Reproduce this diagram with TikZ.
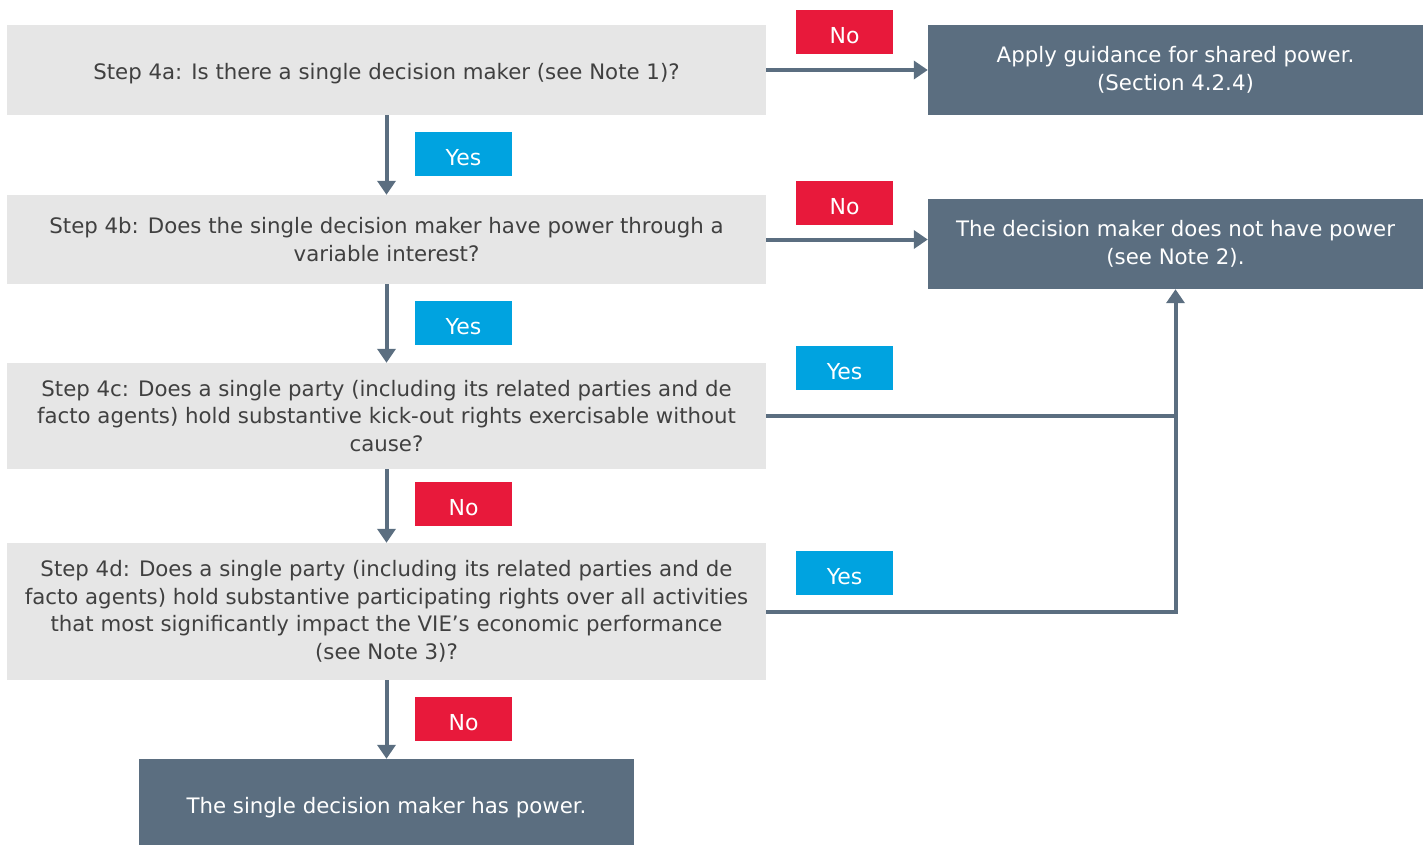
\documentclass[tikz,border=0pt]{standalone}
\usepackage{fontspec}
\setmainfont{DejaVu Sans}
\usetikzlibrary{arrows.meta}
\definecolor{qgray}{HTML}{E6E6E6}
\definecolor{slate}{HTML}{5B6E80}
\definecolor{qred}{HTML}{E8193B}
\definecolor{qblue}{HTML}{00A3E0}
\definecolor{qtext}{HTML}{404040}
\tikzset{
  qbox/.style={fill=qgray, text=qtext, inner sep=0pt, align=center, font=\fontsize{21.3}{27.6}\selectfont, execute at begin node={\rule{0pt}{22.5pt}}},
  rbox/.style={fill=slate, text=white, inner sep=0pt, align=center, font=\fontsize{21.3}{27.6}\selectfont, execute at begin node={\rule{0pt}{22.5pt}}},
  tag/.style={inner sep=0pt, minimum width=97pt, minimum height=44pt, text=white, font=\fontsize{22}{24}\selectfont, execute at begin node={\rule{0pt}{24pt}}},
  notag/.style={tag, fill=qred},
  yestag/.style={tag, fill=qblue},
  conn/.style={draw=slate, line width=4pt, -{Triangle[length=14pt,width=18pt]}},
  connplain/.style={draw=slate, line width=4pt}
}
\begin{document}
\begin{tikzpicture}[x=1pt,y=-1pt]
\useasboundingbox (0,0) rectangle (1427,846);
\node[qbox, minimum width=759pt, minimum height=90pt] (a4) at (386.5,70) {Step 4a: Is there a single decision maker (see Note 1)?};
\node[rbox, minimum width=495pt, minimum height=90pt] (sp) at (1175.5,70) {Apply guidance for shared power.\\(Section 4.2.4)};
\node[notag] (n1) at (844.5,32) {No};
\node[yestag] (y1) at (463.5,154) {Yes};
\node[qbox, minimum width=759pt, minimum height=89pt] (b4) at (386.5,239.5) {Step 4b: Does the single decision maker have power through a\\variable interest?};
\node[rbox, minimum width=495pt, minimum height=90pt] (dm) at (1175.5,244) {The decision maker does not have power\\(see Note 2).};
\node[notag] (n2) at (844.5,203) {No};
\node[yestag] (y2) at (463.5,323) {Yes};
\node[qbox, minimum width=759pt, minimum height=106pt] (c4) at (386.5,416) {Step 4c: Does a single party (including its related parties and de\\facto agents) hold substantive kick-out rights exercisable without\\cause?};
\node[yestag] (y3) at (844.5,368) {Yes};
\node[notag] (n3) at (463.5,504) {No};
\node[qbox, minimum width=759pt, minimum height=137pt] (d4) at (386.5,611.5) {Step 4d: Does a single party (including its related parties and de\\facto agents) hold substantive participating rights over all activities\\that most significantly impact the VIE’s economic performance\\(see Note 3)?};
\node[yestag] (y4) at (844.5,573) {Yes};
\node[notag] (n4) at (463.5,719) {No};
\node[rbox, minimum width=495pt, minimum height=86pt, execute at begin node={\rule{0pt}{27pt}}] (fin) at (386.5,802) {The single decision maker has power.};
\draw[conn] (a4.east) -- (sp.west);
\draw[conn] (a4.south) -- (b4.north);
\draw[conn] (b4.east) -- (b4.east -| dm.west);
\draw[conn] (b4.south) -- (c4.north);
\draw[conn] (c4.south) -- (d4.north);
\draw[conn] (d4.south) -- (fin.north);
\draw[connplain] (c4.east) -- (c4.east -| dm.south);
\draw[conn] (d4.east) -| (dm.south);
\end{tikzpicture}
\end{document}
